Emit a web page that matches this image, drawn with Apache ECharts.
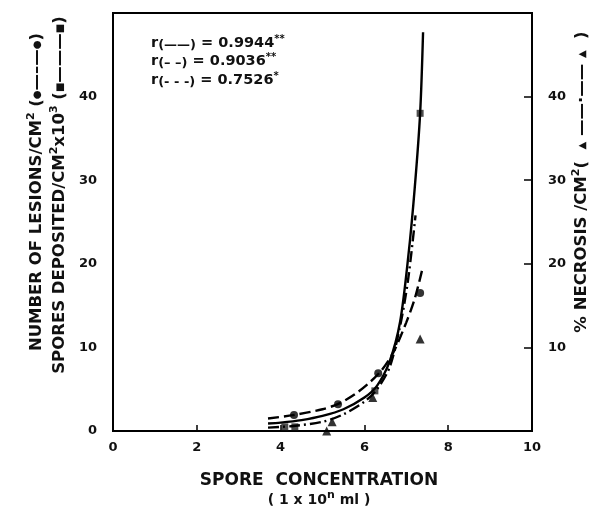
<!DOCTYPE html>
<html>
<head>
<meta charset="utf-8">
<script src="https://cdn.jsdelivr.net/npm/echarts@6/dist/echarts.min.js"></script>
<style>
  html, body { margin: 0; padding: 0; background: #fff; }
  #chart { width: 594px; height: 509px; }
</style>
</head>
<body>
<div id="chart"></div>
<script>
// fitted curves
const sporeFit = [[3.7, 0.9], [4.0, 1.0], [4.5, 1.3], [5.0, 1.8], [5.5, 2.6], [6.0, 4.0], [6.3, 5.4], [6.6, 8.3], [6.85, 13], [7.05, 21], [7.2, 29], [7.33, 38], [7.4, 47.7]]
const lesionFit = [[3.7, 1.5], [4.3, 1.9], [5.0, 2.6], [5.4, 3.3], [5.8, 4.5], [6.1, 5.7], [6.4, 7.2], [6.7, 9.5], [7.0, 13], [7.2, 15.8], [7.38, 19.3]]
const necrosisFit = [[3.7, 0.4], [4.3, 0.6], [5.0, 1.1], [5.5, 2.0], [6.0, 3.5], [6.3, 5.0], [6.6, 7.6], [6.85, 12.5], [7.04, 18], [7.22, 25.8]]

// measured points
const lesionPts = [[4.32, 1.9], [5.37, 3.2], [6.33, 6.9], [7.33, 16.5]]
const sporePts = [[4.1, 0.5], [4.34, 0.5], [6.25, 4.8], [7.33, 38]]
const necrosisPts = [[5.1, 0], [5.23, 1.1], [6.2, 4.0], [7.33, 11]]

const xTicks = [0, 2, 4, 6, 8, 10]
const leftTicks = [0, 10, 20, 30, 40]
const rightTicks = [10, 20, 30, 40]
const rValues = ['0.9944', '0.9036', '0.7526']
const rStars = ['**', '**', '*']
const rDash = ['(——)', '(– –)', '(- - -)']

const font = 'DejaVu Sans'
const chart = echarts.init(document.getElementById('chart'))

const labelRich = {
  m: { fontFamily: font, fontWeight: 'bold', fontSize: 16.5, lineHeight: 22, verticalAlign: 'middle', fill: '#111' },
  s: { fontFamily: font, fontWeight: 'bold', fontSize: 11, lineHeight: 11, verticalAlign: 'top', fill: '#111' },
  k: { fontFamily: font, fontWeight: 'bold', fontSize: 10, lineHeight: 22, verticalAlign: 'middle', fill: '#111' }
}

let legendTexts = rValues.map((v, i) => ({
  type: 'text',
  left: 151,
  top: 34 + i * 18.5,
  style: {
    text: '{m|r}{b|' + rDash[i] + '}{m| = ' + v + '}{s|' + rStars[i] + '}',
    rich: {
      m: { fontFamily: font, fontWeight: 'bold', fontSize: 14.5, lineHeight: 18, verticalAlign: 'middle', fill: '#111' },
      s: { fontFamily: font, fontWeight: 'bold', fontSize: 10, lineHeight: 9, verticalAlign: 'top', fill: '#111' },
      b: { fontFamily: font, fontWeight: 'bold', fontSize: 13, lineHeight: 10, verticalAlign: 'bottom', fill: '#111' }
    }
  }
}))

let option = {
  animation: false,
  grid: { left: 113, right: 62, top: 13, bottom: 78, show: true, borderColor: '#000', borderWidth: 2 },
  xAxis: {
    type: 'value', min: 0, max: 10, interval: 2,
    axisLine: { show: true, lineStyle: { color: '#000', width: 2 } },
    axisTick: { show: true, inside: true, length: 6, lineStyle: { color: '#000', width: 1.5 } },
    splitLine: { show: false },
    axisLabel: {
      margin: 10, color: '#111', fontFamily: font, fontWeight: 'bold', fontSize: 13,
      formatter: v => xTicks.includes(v) ? String(v) : ''
    }
  },
  yAxis: [{
    type: 'value', min: 0, max: 50, interval: 10,
    axisLine: { show: true, lineStyle: { color: '#000', width: 2 } },
    axisTick: { show: false },
    splitLine: { show: false },
    axisLabel: {
      margin: 16, color: '#111', fontFamily: font, fontWeight: 'bold', fontSize: 13,
      formatter: v => leftTicks.includes(v) ? String(v) : ''
    }
  }, {
    type: 'value', min: 0, max: 50, interval: 10, position: 'right',
    axisLine: { show: true, lineStyle: { color: '#000', width: 2 } },
    axisTick: { show: true, inside: true, length: 8, lineStyle: { color: '#000', width: 1.5 } },
    splitLine: { show: false },
    axisLabel: {
      margin: 16, color: '#111', fontFamily: font, fontWeight: 'bold', fontSize: 13,
      formatter: v => rightTicks.includes(v) ? String(v) : ''
    }
  }],
  graphic: [
    {
      type: 'text', x: 37, y: 192, rotation: Math.PI / 2,
      style: {
        text: '{m|NUMBER OF LESIONS/CM}{s|2}{m| (}{k|●}{m|—–—}{k|●}{m|)}',
        rich: labelRich, align: 'center', verticalAlign: 'middle'
      }
    },
    {
      type: 'text', x: 60, y: 195, rotation: Math.PI / 2,
      style: {
        text: '{m|SPORES DEPOSITED/CM}{s|2}{m|x10}{s|3}{m| (}{k|■}{m|———}{k|■}{m|)}',
        rich: labelRich, align: 'center', verticalAlign: 'middle'
      }
    },
    {
      type: 'text', x: 582, y: 182, rotation: Math.PI / 2,
      style: {
        text: '{m|% NECROSIS /CM}{s|2}{m|(  }{k|▲}{m| ——·—— }{k|▲}{m|  )}',
        rich: labelRich, align: 'center', verticalAlign: 'middle'
      }
    },
    {
      type: 'text', x: 319, y: 481,
      style: {
        text: 'SPORE  CONCENTRATION', fontFamily: font, fontWeight: 'bold', fontSize: 17,
        fill: '#111', align: 'center', verticalAlign: 'middle'
      }
    },
    {
      type: 'text', x: 319, y: 500,
      style: {
        text: '{m|( 1 x 10}{s|n}{m| ml )}',
        rich: {
          m: { fontFamily: font, fontWeight: 'bold', fontSize: 14, lineHeight: 20, verticalAlign: 'middle', fill: '#111' },
          s: { fontFamily: font, fontWeight: 'bold', fontSize: 11, lineHeight: 10, verticalAlign: 'top', fill: '#111' }
        },
        align: 'center', verticalAlign: 'middle'
      }
    }
  ].concat(legendTexts),
  series: [
    {
      name: 'spores fit', type: 'line', data: sporeFit, smooth: 0.3, showSymbol: false,
      lineStyle: { color: '#000', width: 2.4 }
    },
    {
      name: 'lesions fit', type: 'line', data: lesionFit, smooth: 0.3, showSymbol: false,
      lineStyle: { color: '#000', width: 2.4, type: [11, 5] }
    },
    {
      name: 'necrosis fit', type: 'line', yAxisIndex: 1, data: necrosisFit, smooth: 0.3, showSymbol: false,
      lineStyle: { color: '#000', width: 2.4, type: [11, 4, 2, 4] }
    },
    {
      name: 'lesions', type: 'scatter', data: lesionPts, symbol: 'circle', symbolSize: 8,
      itemStyle: { color: '#000' }
    },
    {
      name: 'spores', type: 'scatter', data: sporePts, symbol: 'rect', symbolSize: 7,
      itemStyle: { color: '#222' }
    },
    {
      name: 'necrosis', type: 'scatter', yAxisIndex: 1, data: necrosisPts, symbol: 'triangle', symbolSize: 9,
      itemStyle: { color: '#000' }
    }
  ]
}

chart.setOption(option)
</script>
</body>
</html>
